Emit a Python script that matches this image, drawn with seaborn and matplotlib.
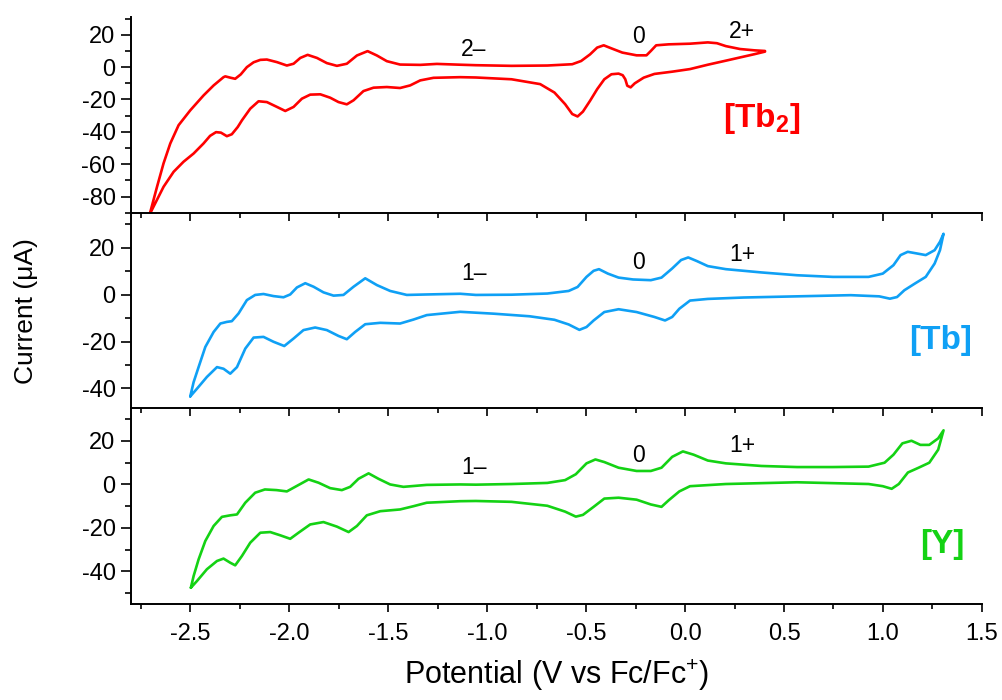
import matplotlib
matplotlib.use("Agg")
import matplotlib.pyplot as plt
import seaborn as sns
from matplotlib.ticker import MultipleLocator, FormatStrFormatter

# ---------------- data ----------------
tb2_potential = [
    -2.705, -2.668, -2.635, -2.601, -2.559, -2.500, -2.433, -2.382, -2.332, -2.323,
    -2.295, -2.273, -2.245, -2.214, -2.180, -2.146, -2.113, -2.062, -2.012, -1.978,
    -1.944, -1.907, -1.860, -1.810, -1.759, -1.709, -1.658, -1.604, -1.557, -1.507,
    -1.440, -1.338, -1.254, -1.136, -1.057, -0.877, -0.696, -0.570, -0.525, -0.480,
    -0.444, -0.411, -0.372, -0.317, -0.245, -0.195, -0.173, -0.146, -0.083, 0.025,
    0.115, 0.161, 0.206, 0.278, 0.350, 0.404,
    0.404, 0.350, 0.278, 0.206, 0.115, 0.025, -0.065, -0.155, -0.209, -0.254,
    -0.275, -0.292, -0.302, -0.315, -0.336, -0.372, -0.408, -0.444, -0.480, -0.516,
    -0.543, -0.570, -0.606, -0.660, -0.732, -0.877, -1.057, -1.136, -1.271, -1.338,
    -1.389, -1.440, -1.507, -1.574, -1.625, -1.675, -1.709, -1.751, -1.793, -1.843,
    -1.894, -1.936, -1.978, -2.020, -2.062, -2.113, -2.155, -2.197, -2.239, -2.260,
    -2.290, -2.315, -2.345, -2.370, -2.400, -2.433, -2.483, -2.534, -2.584, -2.635,
    -2.668, -2.705,
]
tb2_current = [
    -91.0, -74.0, -59.5, -47.2, -35.9, -26.7, -17.5, -11.3, -6.2, -5.7,
    -6.6, -7.2, -4.5, 0.0, 3.0, 4.5, 4.7, 3.1, 1.0, 2.1,
    5.7, 7.6, 5.7, 2.5, 0.8, 2.1, 7.2, 9.9, 7.2, 3.7,
    1.6, 1.4, 2.0, 1.5, 1.2, 0.8, 1.0, 1.8, 3.8, 7.9,
    12.1, 13.5, 11.6, 9.0, 7.3, 7.3, 10.0, 13.5, 14.1, 14.5,
    15.3, 14.8, 13.0, 11.2, 10.4, 10.0,
    9.6, 8.0, 6.0, 4.0, 1.5, -1.2, -2.8, -4.2, -6.5, -10.0,
    -12.5, -11.5, -7.5, -5.0, -4.0, -4.4, -7.5, -13.6, -20.8, -27.5,
    -30.5, -29.0, -22.9, -15.7, -10.5, -7.5, -6.4, -6.2, -6.6, -8.2,
    -11.3, -12.9, -12.3, -12.7, -14.8, -20.5, -23.0, -21.6, -18.9, -16.8,
    -17.0, -19.5, -24.6, -27.1, -24.6, -21.6, -21.1, -25.7, -32.9, -37.0,
    -41.5, -42.7, -40.5, -40.2, -42.5, -47.2, -53.4, -58.5, -64.7, -74.0,
    -82.0, -91.0,
]

tb_potential = [
    -2.500, -2.483, -2.458, -2.424, -2.382, -2.348, -2.315, -2.290, -2.256, -2.214,
    -2.172, -2.130, -2.079, -2.029, -1.995, -1.961, -1.919, -1.877, -1.827, -1.776,
    -1.726, -1.675, -1.616, -1.557, -1.490, -1.406, -1.305, -1.136, -1.057, -0.877,
    -0.696, -0.588, -0.543, -0.498, -0.462, -0.435, -0.390, -0.336, -0.263, -0.173,
    -0.119, -0.065, -0.020, 0.016, 0.061, 0.115, 0.206, 0.386, 0.566, 0.747,
    0.927, 0.999, 1.053, 1.089, 1.125, 1.171, 1.216, 1.261, 1.288, 1.306,
    1.288, 1.261, 1.216, 1.162, 1.108, 1.071, 1.035, 0.981, 0.837, 0.566,
    0.296, 0.115, 0.025, -0.029, -0.065, -0.101, -0.155, -0.245, -0.336, -0.408,
    -0.462, -0.498, -0.534, -0.588, -0.660, -0.786, -0.967, -1.136, -1.305, -1.372,
    -1.440, -1.540, -1.616, -1.667, -1.709, -1.751, -1.810, -1.869, -1.928, -1.978,
    -2.025, -2.079, -2.130, -2.180, -2.222, -2.264, -2.298, -2.332, -2.365, -2.416,
    -2.466, -2.500,
]
tb_current = [
    -43.4, -37.3, -30.9, -22.3, -15.9, -12.3, -11.6, -11.3, -8.0, -2.3,
    -0.1, 0.3, -0.6, -1.1, 0.1, 3.1, 4.9, 3.4, 1.0, -0.4,
    -0.1, 3.4, 7.0, 4.1, 1.6, -0.1, 0.1, 0.4, -0.1, 0.0,
    0.5, 1.6, 3.3, 7.6, 10.2, 10.9, 9.0, 7.3, 6.5, 6.2,
    7.3, 11.2, 14.8, 15.9, 14.3, 12.2, 10.9, 9.5, 8.3, 7.6,
    7.6, 9.0, 12.6, 16.9, 18.3, 17.6, 16.9, 19.0, 22.6, 26.0,
    19.0, 13.3, 7.6, 4.8, 1.9, -1.0, -1.7, -0.7, -0.2, -0.7,
    -1.2, -1.8, -2.5, -6.0, -9.5, -11.0, -9.5, -7.4, -6.2, -7.4,
    -11.0, -13.8, -15.0, -12.7, -10.7, -9.2, -8.1, -7.3, -8.7, -10.6,
    -12.3, -12.0, -12.6, -15.9, -19.0, -17.6, -15.1, -14.0, -15.1, -18.7,
    -21.9, -20.1, -18.0, -18.3, -23.0, -30.9, -33.7, -31.6, -30.9, -35.1,
    -40.1, -43.4,
]

y_potential = [
    -2.497, -2.483, -2.458, -2.424, -2.382, -2.340, -2.298, -2.264, -2.222, -2.172,
    -2.123, -2.064, -2.012, -1.970, -1.902, -1.852, -1.793, -1.734, -1.692, -1.650,
    -1.599, -1.549, -1.490, -1.423, -1.305, -1.136, -1.057, -0.877, -0.696, -0.606,
    -0.552, -0.498, -0.453, -0.408, -0.336, -0.245, -0.173, -0.119, -0.065, -0.011,
    0.043, 0.115, 0.206, 0.386, 0.566, 0.747, 0.927, 1.008, 1.053, 1.098,
    1.144, 1.189, 1.234, 1.279, 1.306,
    1.279, 1.234, 1.180, 1.126, 1.080, 1.044, 0.999, 0.927, 0.566, 0.206,
    0.025, -0.029, -0.083, -0.119, -0.173, -0.245, -0.336, -0.408, -0.462, -0.516,
    -0.552, -0.606, -0.696, -0.877, -1.057, -1.136, -1.305, -1.372, -1.440, -1.540,
    -1.608, -1.658, -1.700, -1.759, -1.827, -1.894, -1.953, -1.995, -2.045, -2.096,
    -2.146, -2.197, -2.239, -2.273, -2.298, -2.332, -2.365, -2.416, -2.466, -2.497,
]
y_current = [
    -47.5, -42.1, -34.5, -26.0, -19.1, -14.9, -14.2, -13.8, -8.4, -3.8,
    -2.3, -2.6, -3.2, -1.1, 2.3, 0.8, -1.7, -2.6, -1.1, 2.6,
    5.1, 2.6, 0.0, -1.1, -0.2, 0.0, -0.1, 0.2, 0.7, 2.0,
    4.7, 9.7, 11.5, 10.3, 7.7, 6.2, 6.2, 7.7, 12.7, 15.2,
    13.7, 11.0, 9.7, 8.5, 8.0, 8.0, 8.2, 10.0, 13.7, 18.9,
    20.1, 18.2, 18.2, 21.2, 24.9,
    16.0, 10.0, 7.7, 5.5, 0.2, -2.0, -0.8, 0.2, 1.0, 0.2,
    -0.8, -3.2, -7.3, -10.3, -9.2, -7.0, -6.1, -6.5, -10.3, -14.0,
    -14.8, -12.5, -9.8, -8.0, -7.6, -7.7, -8.4, -10.0, -11.5, -12.3,
    -14.2, -19.1, -21.9, -19.4, -17.3, -18.4, -22.2, -25.0, -23.4, -21.9,
    -22.2, -26.8, -32.9, -37.2, -36.0, -34.1, -35.2, -39.0, -44.4, -47.5,
]

x_ticks = [-2.5, -2.0, -1.5, -1.0, -0.5, 0.0, 0.5, 1.0, 1.5]
compound_labels = [r"[Tb$_\mathbf{2}$]", "[Tb]", "[Y]"]
state_labels_tb2 = ["2\u2013", "0", "2+"]
state_labels_mono = ["1\u2013", "0", "1+"]

# ---------------- style ----------------
sns.set_theme(style="ticks")
plt.rcParams.update({
    "font.family": ["Liberation Sans", "DejaVu Sans"],
    "axes.unicode_minus": False,
    "mathtext.fontset": "custom",
    "mathtext.rm": "Liberation Sans",
    "mathtext.it": "Liberation Sans:italic",
    "mathtext.bf": "Liberation Sans:bold",
    "text.color": "black",
    "axes.labelcolor": "black",
    "xtick.color": "black",
    "ytick.color": "black",
})

red, blue, green = "#FF0000", "#0FA0F5", "#14D214"

fig = plt.figure(figsize=(10.03, 7.0), dpi=100)
gs = fig.add_gridspec(3, 1, left=0.1305, right=0.979, top=0.9757, bottom=0.1371, hspace=0)
axes = [fig.add_subplot(gs[i]) for i in range(3)]
for ax in axes[1:]:
    ax.sharex(axes[0])

series = [
    (tb2_potential, tb2_current, red, (-90, 31)),
    (tb_potential, tb_current, blue, (-48.5, 35)),
    (y_potential, y_current, green, (-55, 35)),
]

for ax, (xp, yc, col, ylim) in zip(axes, series):
    sns.lineplot(x=xp, y=yc, sort=False, estimator=None, color=col, lw=1.9, ax=ax, legend=False)
    for ln in ax.lines:
        ln.set_solid_joinstyle("round")
    ax.set_xlim(-2.8, 1.5)
    ax.set_ylim(*ylim)
    ax.spines["top"].set_visible(False)
    ax.spines["right"].set_visible(False)
    for s in ("left", "bottom"):
        ax.spines[s].set_linewidth(1.4)
        ax.spines[s].set_color("black")
    ax.set_xticks(x_ticks)
    ax.xaxis.set_minor_locator(MultipleLocator(0.25))
    ax.yaxis.set_major_locator(MultipleLocator(20))
    ax.yaxis.set_minor_locator(MultipleLocator(10))
    ax.xaxis.set_major_formatter(FormatStrFormatter("%.1f"))
    ax.tick_params(axis="x", which="major", direction="out", length=6, width=1.2, pad=8, labelsize=17, colors="black")
    ax.tick_params(axis="x", which="minor", direction="out", length=3.5, width=1.2, colors="black")
    ax.tick_params(axis="y", which="major", direction="out", length=7, width=1.2, pad=4, labelsize=17, colors="black")
    ax.tick_params(axis="y", which="minor", direction="out", length=4.3, width=1.2, colors="black")
    ax.set_xlabel("")
    ax.set_ylabel("")
    ax.patch.set_alpha(0)

for ax in axes[:2]:
    ax.tick_params(axis="x", which="both", labelbottom=False)

# state annotations
for (tx, ty), lab in zip([(-1.07, 11.0), (-0.236, 19.0), (0.286, 22.0)], state_labels_tb2):
    axes[0].text(tx, ty, lab, ha="center", va="center", fontsize=16.5)
for (tx, ty), lab in zip([(-1.066, 9.0), (-0.236, 13.6), (0.287, 17.0)], state_labels_mono):
    axes[1].text(tx, ty, lab, ha="center", va="center", fontsize=16.5)
for (tx, ty), lab in zip([(-1.066, 8.0), (-0.236, 13.5), (0.287, 17.8)], state_labels_mono):
    axes[2].text(tx, ty, lab, ha="center", va="center", fontsize=16.5)

# compound labels
axes[0].text(0.389, -31.5, compound_labels[0], color=red, fontsize=24, fontweight="bold", ha="center", va="center")
axes[1].text(1.293, -19.7, compound_labels[1], color=blue, fontsize=24, fontweight="bold", ha="center", va="center")
axes[2].text(1.298, -27.7, compound_labels[2], color=green, fontsize=24, fontweight="bold", ha="center", va="center")

axes[2].set_xlabel(r"Potential (V vs Fc/Fc$^{+}$)", fontsize=22, labelpad=9)
fig.text(0.026, 0.556, "Current (\u03bcA)", rotation=90, ha="center", va="center", fontsize=19)

fig.savefig("out.png", dpi=100)
